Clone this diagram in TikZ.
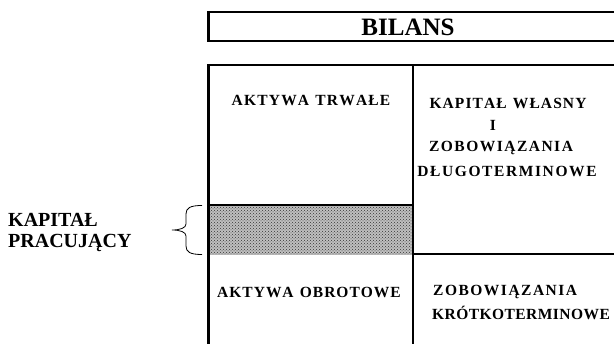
\documentclass[tikz,border=0pt]{standalone}
\usepackage{fontspec}
\usetikzlibrary{patterns}
\setmainfont{Liberation Serif}
% manual letter spacing of one word
\newcommand\lsp[2][1.5pt]{\def\lspk{\kern#1}\lsploop#2\relax\unkern}
\def\lsploop#1{\ifx#1\relax\else#1\lspk\expandafter\lsploop\fi}
\newcommand\wsp{\hspace{0.4em}}
\begin{document}
\begin{tikzpicture}[x=1pt,y=-1pt,
  frame/.style={line width=2pt},
  boxtext/.style={font=\bfseries\fontsize{15.5}{23}\selectfont, inner sep=0pt},
  sidetext/.style={font=\bfseries\fontsize{20}{21}\selectfont, inner sep=0pt, align=left},
  titletext/.style={font=\bfseries\fontsize{25}{26}\selectfont, inner sep=0pt}]
\useasboundingbox (0,0) rectangle (614,344);
\clip (0,0) rectangle (614,344);
% title box
\draw[frame] (640,12) -- (208.5,12) -- (208.5,41.5) -- (640,41.5);
\draw[line width=3pt] (208.5,11) -- (208.5,42.5);
\node[titletext] (title) at (408,27) {BILANS};
% hatched working capital band
\fill[gray!50] (209,205) rectangle (413,255);
\fill[pattern=crosshatch dots, pattern color=black!80] (209,205) rectangle (413,255);
% main frame
\draw[line width=3pt] (208.5,64.5) -- (208.5,350);
\draw[frame] (208,65.5) -- (640,65.5);
\draw[frame] (413,65) -- (413,350);
\draw[frame] (208,205.5) -- (413,205.5);
\draw[frame] (413,254.5) -- (640,254.5);
% texts
\node[boxtext] (at) at (311,101) {\lsp[1.2pt]{AKTYWA}\wsp\lsp[1.2pt]{TRWAŁE}};
\node[boxtext] (kw1) at (508,103) {\lsp[1.1pt]{KAPITAŁ}\wsp\lsp[1.1pt]{WŁASNY}};
\node[boxtext] (kw2) at (493,125) {I};
\node[boxtext] (kw3) at (501,148) {\lsp{ZOBOWIĄZANIA}};
\node[boxtext] (kw4) at (507,171) {\lsp[1.6pt]{DŁUGOTERMINOWE}};
\node[boxtext] (ao) at (309,292) {\lsp[1.0pt]{AKTYWA}\wsp\lsp[1.0pt]{OBROTOWE}};
\node[boxtext, anchor=west] (zk1) at (433,292) {\lsp{ZOBOWIĄZANIA}};
\node[boxtext, anchor=west] (zk2) at (432,313) {\lsp[0.45pt]{KRÓTKOTERMINOWE}};
\node[sidetext, anchor=west] (kp) at (8,233) {KAPITAŁ\\PRACUJĄCY};
% brace
\draw[line width=0.8pt] (202,205.5) .. controls (190,205.5) and (186,208) .. (186,214)
  -- (186,224) .. controls (186,228) and (180,230) .. (172,230)
  .. controls (180,230) and (186,232) .. (186,236)
  -- (186,246) .. controls (186,252) and (190,254.5) .. (202,254.5);
\end{tikzpicture}
\end{document}
